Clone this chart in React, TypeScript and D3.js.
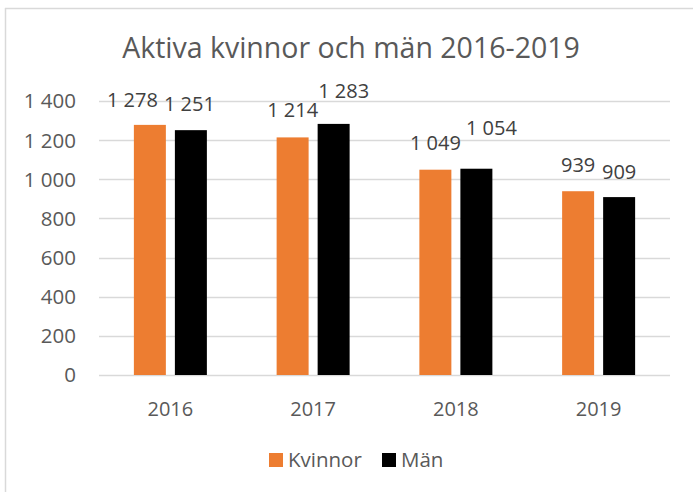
import React, { useEffect, useRef } from "react";
import * as d3 from "d3";

const years = ["2016", "2017", "2018", "2019"];
const kvinnor = [1278, 1214, 1049, 939];
const man = [1251, 1283, 1054, 909];
const seriesNames = ["Kvinnor", "Män"];
const seriesColors = ["#ED7D31", "#000000"];
const yTicks = [0, 200, 400, 600, 800, 1000, 1200, 1400];

// manual label nudges [dx, dy] per year & series (labels were dragged in the original)
const labelNudge = [
  [[-17.5, 1], [-1.5, 0]],
  [[0, -1], [10, -7]],
  [[0, -1], [15, -15]],
  [[0, 0], [0, 1]],
];

const fmt = (v: number) => d3.format(",")(v).replace(/,/g, " ");

const App = () => {
  const svgRef = useRef<SVGSVGElement>(null);

  useEffect(() => {
    const width = 693;
    const height = 492;
    const font = "'Open Sans', sans-serif";
    const textColor = "#595959";

    const svg = d3.select(svgRef.current);
    svg.selectAll("*").remove();
    svg.attr("width", width).attr("height", height);

    svg.append("rect").attr("width", width).attr("height", height).attr("fill", "#fff");

    // chart border (only top and left visible)
    svg.append("line").attr("x1", 5).attr("x2", width).attr("y1", 8.5).attr("y2", 8.5)
      .attr("stroke", "#d9d9d9").attr("stroke-width", 1.5);
    svg.append("line").attr("x1", 5.5).attr("x2", 5.5).attr("y1", 8).attr("y2", height)
      .attr("stroke", "#d9d9d9").attr("stroke-width", 1.5);

    svg.append("text")
      .attr("x", 351).attr("y", 58)
      .attr("text-anchor", "middle")
      .attr("font-family", font).attr("font-size", 28.5)
      .attr("fill", textColor)
      .text("Aktiva kvinnor och män 2016-2019");

    const left = 99;
    const right = 670;
    const y = d3.scaleLinear().domain([0, 1400]).range([375, 101]);
    const x0 = d3.scaleBand().domain(years).range([left, right]).paddingInner(0).paddingOuter(0);
    const groupWidth = 73;
    const x1 = d3.scaleBand().domain(seriesNames).range([0, groupWidth]).paddingInner(0.22);

    const g = svg.append("g");

    g.selectAll("line.grid")
      .data(yTicks)
      .join("line")
      .attr("class", "grid")
      .attr("x1", left).attr("x2", right)
      .attr("y1", (d) => Math.round(y(d)) + 0.5).attr("y2", (d) => Math.round(y(d)) + 0.5)
      .attr("stroke", "#d9d9d9").attr("stroke-width", 1.3);

    g.selectAll("text.ytick")
      .data(yTicks)
      .join("text")
      .attr("class", "ytick")
      .attr("x", 76).attr("y", (d) => y(d))
      .attr("dy", "0.36em")
      .attr("text-anchor", "end")
      .attr("font-family", font).attr("font-size", 20.5)
      .attr("fill", textColor)
      .text((d) => fmt(d));

    const rows = years.map((yr, i) => ({ yr, i, values: [kvinnor[i], man[i]] }));

    const groups = g.selectAll("g.year")
      .data(rows)
      .join("g")
      .attr("class", "year")
      .attr("transform", (d) => `translate(${x0(d.yr)! + x0.bandwidth() / 2 - groupWidth / 2},0)`);

    groups.selectAll("rect")
      .data((d) => d.values.map((v, j) => ({ v, name: seriesNames[j], j, i: d.i })))
      .join("rect")
      .attr("x", (d) => x1(d.name)!)
      .attr("width", x1.bandwidth())
      .attr("y", (d) => y(d.v))
      .attr("height", (d) => y(0) - y(d.v))
      .attr("fill", (d) => seriesColors[d.j]);

    groups.selectAll("text.val")
      .data((d) => d.values.map((v, j) => ({ v, name: seriesNames[j], j, i: d.i })))
      .join("text")
      .attr("class", "val")
      .attr("x", (d) => x1(d.name)! + x1.bandwidth() / 2 + labelNudge[d.i][d.j][0])
      .attr("y", (d) => y(d.v) - 19 + labelNudge[d.i][d.j][1])
      .attr("text-anchor", "middle")
      .attr("font-family", font).attr("font-size", 20)
      .attr("fill", "#404040")
      .text((d) => fmt(d.v));

    g.selectAll("text.xtick")
      .data(years)
      .join("text")
      .attr("class", "xtick")
      .attr("x", (d) => x0(d)! + x0.bandwidth() / 2)
      .attr("y", 416)
      .attr("text-anchor", "middle")
      .attr("font-family", font).attr("font-size", 20)
      .attr("fill", textColor)
      .text((d) => d);

    // legend
    const legendItems = [
      { name: seriesNames[0], color: seriesColors[0], x: 269 },
      { name: seriesNames[1], color: seriesColors[1], x: 382 },
    ];
    const lg = svg.append("g");
    lg.selectAll("rect")
      .data(legendItems)
      .join("rect")
      .attr("x", (d) => d.x).attr("y", 453)
      .attr("width", 14).attr("height", 14)
      .attr("fill", (d) => d.color);
    lg.selectAll("text")
      .data(legendItems)
      .join("text")
      .attr("x", (d) => d.x + 19).attr("y", 467)
      .attr("font-family", font).attr("font-size", 20.5)
      .attr("fill", textColor)
      .text((d) => d.name);
  }, []);

  return <svg ref={svgRef} style={{ position: "absolute", left: 0, top: 0 }}></svg>;
};

export default App;
